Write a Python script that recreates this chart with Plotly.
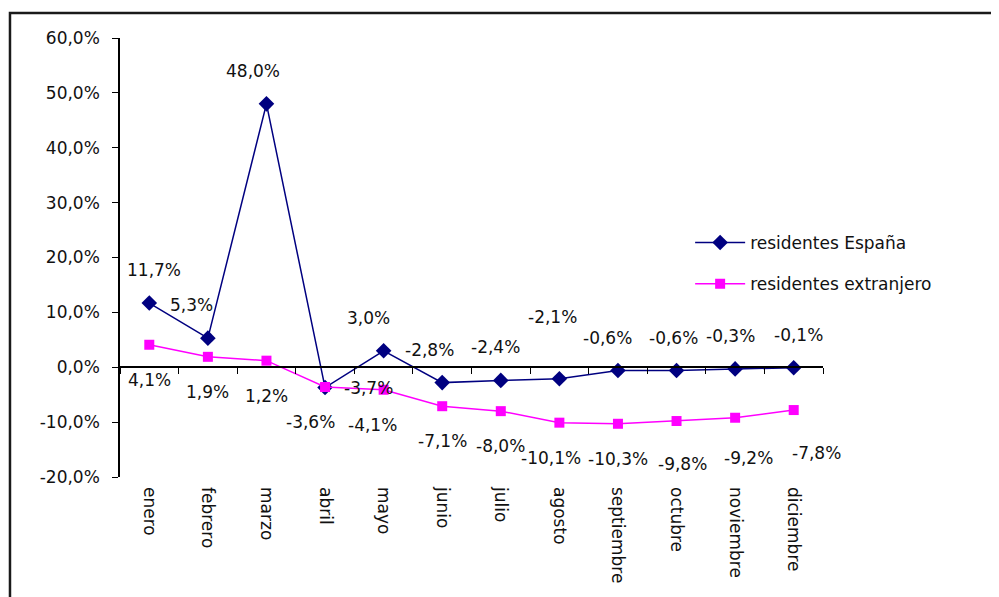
import plotly.graph_objects as go

months = ["enero", "febrero", "marzo", "abril", "mayo", "junio", "julio",
          "agosto", "septiembre", "octubre", "noviembre", "diciembre"]
residentes_espana = [11.7, 5.3, 48.0, -3.7, 3.0, -2.8, -2.4, -2.1, -0.6, -0.6, -0.3, -0.1]
residentes_extranjero = [4.1, 1.9, 1.2, -3.6, -4.1, -7.1, -8.0, -10.1, -10.3, -9.8, -9.2, -7.8]
y_ticks = [-20, -10, 0, 10, 20, 30, 40, 50, 60]

FONT = "DejaVu Sans"
TXT = "#111111"
BLUE = "#000080"
PINK = "#FF00FF"


def pct(v):
    return f"{v:.1f}%".replace(".", ",")


x_idx = list(range(len(months)))

fig = go.Figure()
fig.add_trace(go.Scatter(
    x=x_idx, y=residentes_espana, name="residentes España", mode="lines+markers",
    line=dict(color=BLUE, width=1.5), marker=dict(symbol="diamond", size=12, color=BLUE),
    legendgroup="a", hoverinfo="skip"))
fig.add_trace(go.Scatter(
    x=x_idx, y=residentes_extranjero, name="residentes extranjero", mode="lines+markers",
    line=dict(color=PINK, width=1.5), marker=dict(symbol="square", size=10, color=PINK),
    legendgroup="b", xaxis="x2", hoverinfo="skip"))

# data labels: blue above, pink below; a few labels nudged as in the original
nudge_es = {1: (-16, 0), 2: (-13, 0), 3: (43, -33), 4: (-15, 0), 5: (-13, 0),
            6: (-5, 0), 7: (-7, 29), 8: (-10, 0), 9: (-3, 0), 10: (-5, 0)}
nudge_ex = {3: (-15, 0), 4: (-11, 0), 7: (-8, 0), 9: (6, -8), 10: (13, -5), 11: (23, -8)}
annotations = []
for i, v in enumerate(residentes_espana):
    dx, dy = nudge_es.get(i, (5, 0))
    annotations.append(dict(x=i, y=v, text=pct(v), showarrow=False, xshift=dx,
                            yshift=33 + dy, font=dict(family=FONT, size=17, color=TXT)))
for i, v in enumerate(residentes_extranjero):
    dx, dy = nudge_ex.get(i, (0, 0))
    annotations.append(dict(x=i, y=v, text=pct(v), showarrow=False, xshift=dx,
                            yshift=-35 + dy, font=dict(family=FONT, size=17, color=TXT)))

fig.update_layout(
    width=991, height=589,
    margin=dict(l=112, r=176, t=30, b=120),
    paper_bgcolor="white", plot_bgcolor="white",
    font=dict(family=FONT, size=17, color=TXT),
    showlegend=True,
    legend=dict(x=0.811, y=0.574, xanchor="left", yanchor="top", bgcolor="rgba(0,0,0,0)",
                itemwidth=50, tracegroupgap=16, traceorder="grouped",
                font=dict(family=FONT, size=17, color=TXT)),
    xaxis=dict(range=[-0.5, 11.5], tickvals=x_idx, ticktext=months, tickangle=90,
               ticks="", showline=False, showgrid=False, zeroline=False,
               ticklabelstandoff=9),
    xaxis2=dict(range=[-0.5, 11.5], overlaying="x", anchor="free", position=0.25,
                tickvals=[i - 0.5 for i in range(len(months) + 1)], ticks="outside",
                ticklen=6, tickcolor="black", showticklabels=False, showline=True,
                linecolor="black", linewidth=1.5, showgrid=False, zeroline=False),
    yaxis=dict(range=[-20, 60], tickvals=y_ticks, ticktext=[pct(t) for t in y_ticks],
               ticks="outside", ticklen=6, tickcolor="black", showline=True,
               linecolor="black", linewidth=1.5, showgrid=False, zeroline=False,
               ticklabelstandoff=9),
    annotations=annotations,
    shapes=[dict(type="rect", xref="paper", yref="paper", x0=-0.1565, x1=1.4,
                 y0=-0.5, y1=1.057, line=dict(color="#1a1a1a", width=2.5),
                 fillcolor="rgba(0,0,0,0)", layer="above")],
)

fig.write_html("out.html")
